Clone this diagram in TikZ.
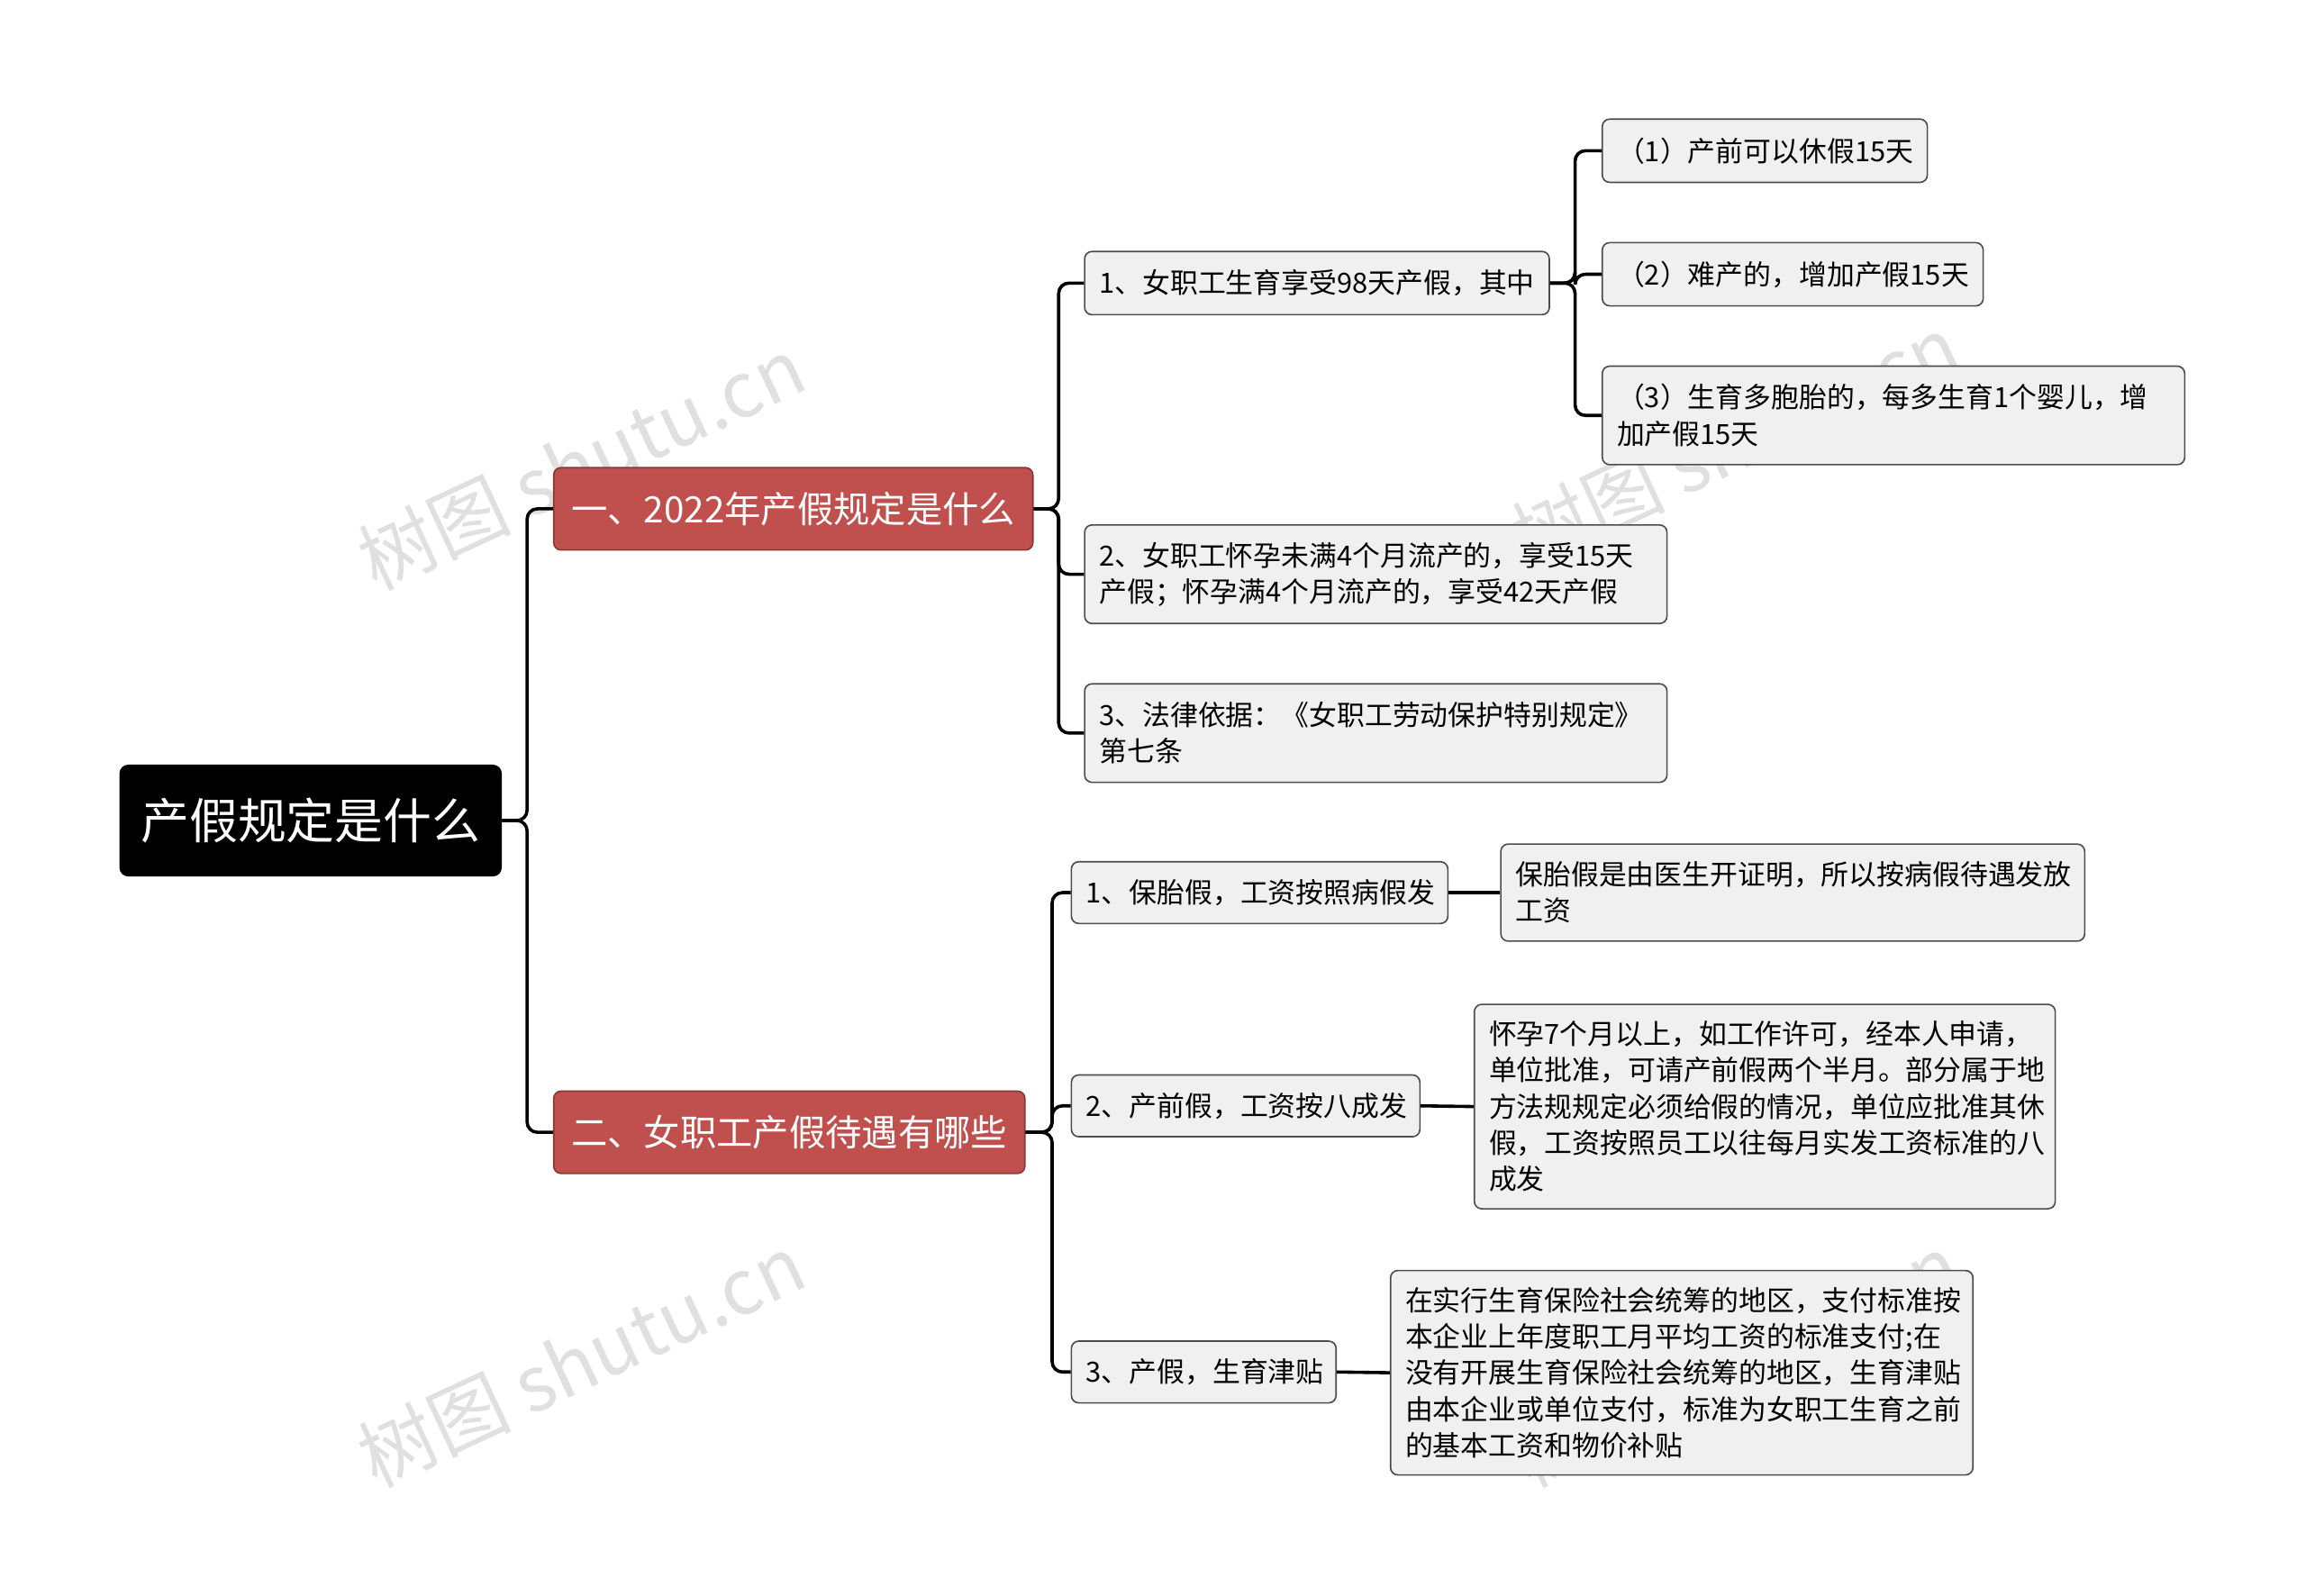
\documentclass[tikz,border=0pt]{standalone}
\usepackage{fontspec}
\setmainfont{Noto Sans CJK SC}
\definecolor{catred}{RGB}{192,80,77}
\begin{document}
\begin{tikzpicture}[x=1pt,y=-1pt,
 leaf/.style={draw=black!70,fill=black!6,rounded corners=5pt,line width=1pt,anchor=west,align=left,inner xsep=10pt,inner ysep=3pt,font=\fontsize{18.9}{24.7}\selectfont},
 cat/.style={fill=catred,draw=catred!70!black,rounded corners=5pt,line width=1pt,anchor=west,text=white,inner xsep=12pt,font=\fontsize{24.7}{28}\selectfont,minimum height=56pt},
 conn/.style={line width=2.2pt,rounded corners=7pt},
 wm/.style={text=black!12,rotate=25,font=\fontsize{52}{52}\selectfont}]
\useasboundingbox (0,0) rectangle (1568,1085);
\node[wm] at (395,315) {树图 shutu.cn};
\node[wm] at (395,925) {树图 shutu.cn};
\node[wm] at (1180,300) {树图 shutu.cn};
\node[wm] at (1180,925) {树图 shutu.cn};
\node[fill=black,rounded corners=6pt,text=white,anchor=west,minimum width=260pt,minimum height=76pt,font=\fontsize{33}{36}\selectfont] (r) at (81,558) {产假规定是什么};
\node[cat,minimum width=325pt] (a1) at (376,346) {一、2022年产假规定是什么};
\node[cat,minimum width=316pt] (a2) at (376,770) {二、女职工产假待遇有哪些};
\node[leaf,text width=296pt,minimum height=43pt] (b1) at (737,192.5) {1、女职工生育享受98天产假，其中};
\node[leaf,text width=376pt,minimum height=67pt] (b2) at (737,390.5) {2、女职工怀孕未满4个月流产的，享受15天\\产假；怀孕满4个月流产的，享受42天产假};
\node[leaf,text width=376pt,minimum height=67pt] (b3) at (737,498.5) {3、法律依据：《女职工劳动保护特别规定》\\第七条};
\node[leaf,text width=201pt,minimum height=43pt] (c1) at (1089,102.5) {（1）产前可以休假15天};
\node[leaf,text width=239pt,minimum height=43pt] (c2) at (1089,186.5) {（2）难产的，增加产假15天};
\node[leaf,text width=376pt,minimum height=67pt] (c3) at (1089,282.5) {（3）生育多胞胎的，每多生育1个婴儿，增\\加产假15天};
\node[leaf,text width=236pt,minimum height=42pt] (d1) at (728,607) {1、保胎假，工资按照病假发};
\node[leaf,text width=217pt,minimum height=42pt] (d2) at (728,752) {2、产前假，工资按八成发};
\node[leaf,text width=160pt,minimum height=42pt] (d3) at (728,933) {3、产假，生育津贴};
\node[leaf,text width=377pt,minimum height=66pt] (e1) at (1020,607) {保胎假是由医生开证明，所以按病假待遇发放\\工资};
\node[leaf,text width=375pt,minimum height=139pt] (e2) at (1002,752.5) {怀孕7个月以上，如工作许可，经本人申请，\\单位批准，可请产前假两个半月。部分属于地\\方法规规定必须给假的情况，单位应批准其休\\假，工资按照员工以往每月实发工资标准的八\\成发};
\node[leaf,text width=376pt,minimum height=139pt] (e3) at (945,933.5) {在实行生育保险社会统筹的地区，支付标准按\\本企业上年度职工月平均工资的标准支付;在\\没有开展生育保险社会统筹的地区，生育津贴\\由本企业或单位支付，标准为女职工生育之前\\的基本工资和物价补贴};
\foreach \c in {a1,a2} \draw[conn] (r.east) -- ++(17,0) |- (\c.west);
\foreach \c in {b1,b2,b3} \draw[conn] (a1.east) -- ++(17,0) |- (\c.west);
\foreach \c in {c1,c2,c3} \draw[conn] (b1.east) -- ++(17,0) |- (\c.west);
\foreach \c in {d1,d2,d3} \draw[conn] (a2.east) -- ++(18,0) |- (\c.west);
\draw[conn] (d1.east) -- (e1.west);
\draw[conn] (d2.east) -- (e2.west);
\draw[conn] (d3.east) -- (e3.west);
\end{tikzpicture}
\end{document}
